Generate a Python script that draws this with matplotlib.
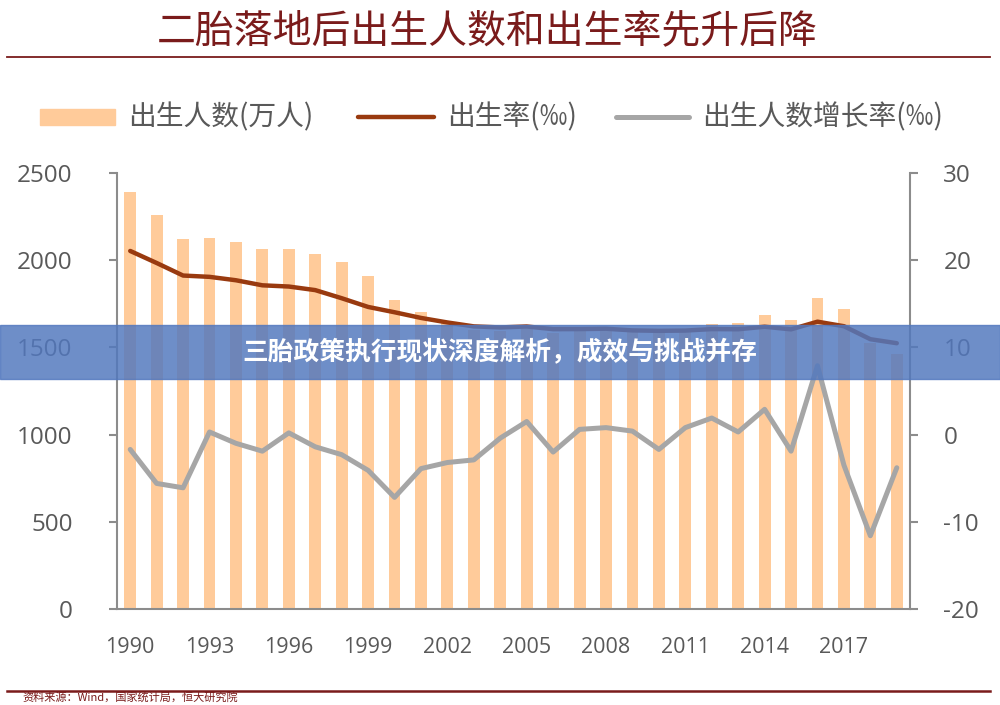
import matplotlib
matplotlib.use("Agg")
import matplotlib.pyplot as plt
from matplotlib.patches import Rectangle
from matplotlib.lines import Line2D
import numpy as np

plt.rcParams['font.family'] = ['Noto Sans CJK SC', 'DejaVu Sans']

years = list(range(1990, 2020))
births = [2391, 2258, 2119, 2126, 2104, 2063, 2067, 2038, 1991, 1909,
          1771, 1702, 1647, 1599, 1593, 1617, 1585, 1595, 1608, 1591,
          1592, 1604, 1635, 1640, 1687, 1655, 1786, 1723, 1523, 1465]
birth_rate = [21.06, 19.68, 18.24, 18.09, 17.70, 17.12, 16.98, 16.57, 15.64, 14.64,
              14.03, 13.38, 12.86, 12.41, 12.29, 12.40, 12.09, 12.10, 12.14, 11.95,
              11.90, 11.93, 12.10, 12.08, 12.37, 12.07, 12.95, 12.43, 10.94, 10.48]
growth = [-1.7, -5.6, -6.1, 0.3, -1.0, -1.9, 0.2, -1.4, -2.3, -4.1,
          -7.2, -3.9, -3.2, -2.9, -0.4, 1.5, -2.0, 0.6, 0.8, 0.4,
          -1.7, 0.8, 1.9, 0.3, 2.9, -1.9, 7.9, -3.5, -11.6, -3.8]
left_ticks = [0, 500, 1000, 1500, 2000, 2500]
right_ticks = [-20, -10, 0, 10, 20, 30]
xtick_years = list(range(1990, 2018, 3))

title = "二胎落地后出生人数和出生率先升后降"
legend_labels = ["出生人数(万人)", "出生率(‰)", "出生人数增长率(‰)"]
banner_text = "三胎政策执行现状深度解析，成效与挑战并存"
source_text = "资料来源：Wind，国家统计局，恒大研究院"

W, H = 1000, 705
def fx(x): return x / W
def fy(y): return 1 - y / H

bar_color = '#FFCB9A'
rate_color = '#993A0F'
growth_color = '#A6A6A6'
title_color = '#7A1B1B'
text_color = '#595959'
spine_color = '#8C8C8C'

fig = plt.figure(figsize=(10, 7.05), dpi=100)
ax = fig.add_axes([fx(117), fy(609), fx(910) - fx(117), fy(173) - fy(609)])
ax2 = ax.twinx()

x = np.arange(len(years))
ax.bar(x, births, width=0.45, color=bar_color, zorder=2)
ax.set_ylim(0, 2500)
ax.set_xlim(-0.5, len(years) - 0.5)
ax.set_yticks(left_ticks)
ax.set_yticklabels([str(t) for t in left_ticks], family='Open Sans', fontsize=17.5, color=text_color)
ax.set_xticks([years.index(y) for y in xtick_years])
ax.set_xticklabels([str(y) for y in xtick_years], family='Open Sans', fontsize=15.5, color=text_color)
ax.tick_params(axis='x', length=0, pad=20)
ax.tick_params(axis='y', length=6, width=1.5, color=spine_color, pad=26)

ax2.plot(x, growth, color=growth_color, lw=3.6, solid_joinstyle='round', solid_capstyle='round', zorder=3)
ax2.plot(x, birth_rate, color=rate_color, lw=3.2, solid_joinstyle='round', solid_capstyle='round', zorder=4)
ax2.set_ylim(-20, 30)
ax2.set_yticks(right_ticks)
ax2.set_yticklabels([str(t) for t in right_ticks], family='Open Sans', fontsize=17.5, color=text_color)
ax2.tick_params(axis='y', length=6, width=1.5, color=spine_color, pad=18)

for a in (ax, ax2):
    a.spines['top'].set_visible(False)
    for s in ('left', 'right', 'bottom'):
        a.spines[s].set_color(spine_color)
        a.spines[s].set_linewidth(1.5)
ax.spines['right'].set_visible(False)
ax2.spines['left'].set_visible(False)
ax2.spines['bottom'].set_visible(False)
ax.set_zorder(1)
ax2.set_zorder(2)
ax.patch.set_visible(False)

# title and rules
fig.text(fx(487), fy(31), title, ha='center', va='center', fontsize=28,
         color=title_color, fontweight='light')
fig.add_artist(Line2D([fx(7), fx(990)], [fy(57), fy(57)], color=title_color, lw=1.3))
fig.add_artist(Line2D([fx(7), fx(990)], [fy(691), fy(691)], color=title_color, lw=1.8))
fig.text(fx(22), fy(703), source_text, ha='left', va='bottom', fontsize=8, color=title_color)

# legend
ly = 117
fig.add_artist(Rectangle((fx(40), fy(125)), fx(115) - fx(40), fy(109) - fy(125), color=bar_color))
fig.text(fx(128), fy(ly), legend_labels[0], ha='left', va='center', fontsize=20, color=text_color)
fig.add_artist(Line2D([fx(358), fx(434)], [fy(ly), fy(ly)], color=rate_color, lw=3.2, solid_capstyle='round'))
fig.text(fx(447), fy(ly), legend_labels[1], ha='left', va='center', fontsize=20, color=text_color)
fig.add_artist(Line2D([fx(616), fx(689)], [fy(ly), fy(ly)], color=growth_color, lw=3.6, solid_capstyle='round'))
fig.text(fx(702), fy(ly), legend_labels[2], ha='left', va='center', fontsize=20, color=text_color)

# banner overlay
fig.add_artist(Rectangle((0, fy(379)), 1, fy(325) - fy(379), color='#5278BE', alpha=0.84, zorder=20))
fig.text(0.5, fy(353), banner_text, ha='center', va='center', fontsize=18.5,
         fontweight='bold', color='white', zorder=21)

fig.savefig('out.png', dpi=100)
